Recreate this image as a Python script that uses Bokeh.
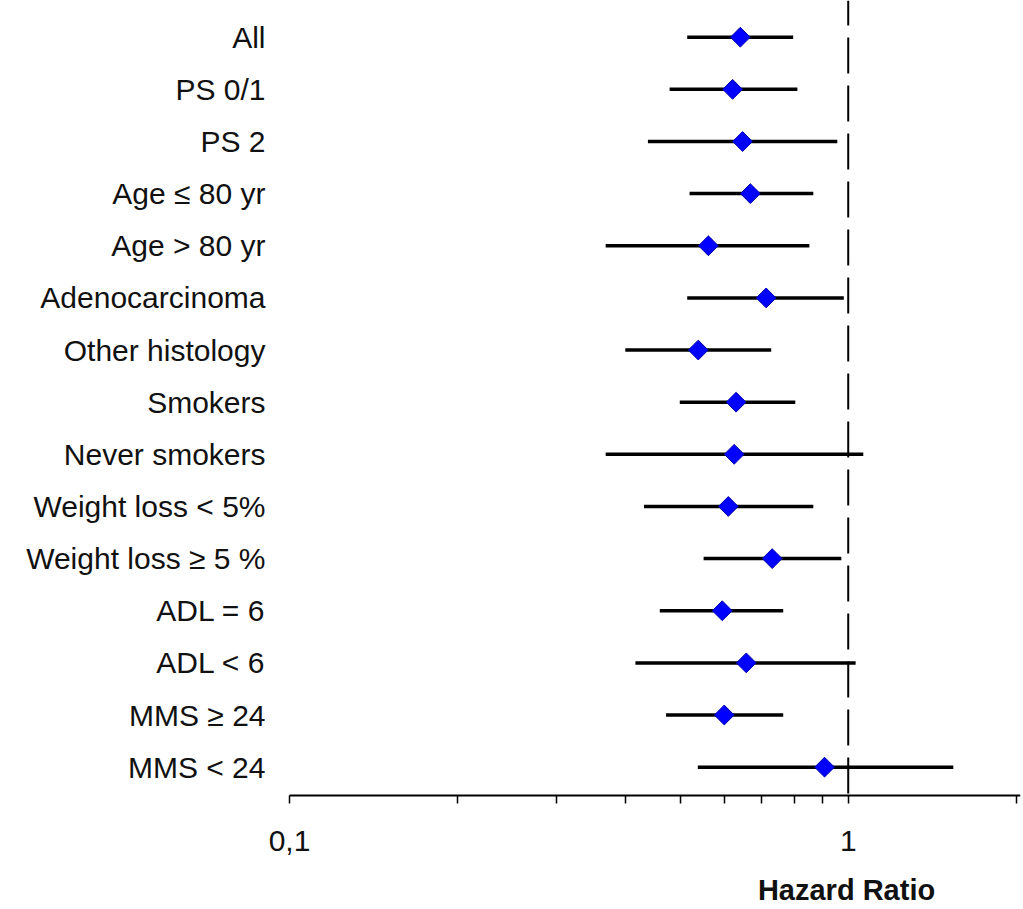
import math
from bokeh.plotting import figure
from bokeh.models import FixedTicker, Label, CustomJSTickFormatter, ColumnDataSource
from bokeh.embed import file_html
from bokeh.resources import INLINE

categories = ["All", "PS 0/1", "PS 2", "Age \u2264 80 yr", "Age > 80 yr", "Adenocarcinoma",
              "Other histology", "Smokers", "Never smokers", "Weight loss < 5%",
              "Weight loss \u2265 5 %", "ADL = 6", "ADL < 6", "MMS \u2265 24", "MMS < 24"]
hr = [0.641, 0.621, 0.647, 0.668, 0.562, 0.713, 0.539, 0.630, 0.625, 0.610, 0.731, 0.595, 0.657, 0.600, 0.907]
ci_low = [0.515, 0.479, 0.438, 0.520, 0.368, 0.515, 0.399, 0.4995, 0.368, 0.431, 0.551, 0.460, 0.416, 0.472, 0.538]
ci_high = [0.797, 0.811, 0.956, 0.866, 0.852, 0.982, 0.728, 0.804, 1.064, 0.866, 0.972, 0.765, 1.031, 0.765, 1.542]
major_ticks = [0.1, 1]
minor_ticks = [0.2, 0.3, 0.4, 0.5, 0.6, 0.7, 0.8, 0.9, 2]
reference_hr = 1

n = len(categories)
ypos = [n - 1 - i for i in range(n)]

X_START = 0.09095
X_END = 2.034
Y_TOP = 14.704
Y_AXIS = -0.543
Y_BOTTOM = -2.73

src = ColumnDataSource(dict(y=ypos, hr=hr, lo=ci_low, hi=ci_high, cat=categories))

p = figure(width=1023, height=909, x_axis_type="log", x_range=(X_START, X_END),
           y_range=(Y_BOTTOM, Y_TOP), output_backend="svg", toolbar_location=None,
           min_border_left=266, min_border_right=3, min_border_top=0, min_border_bottom=0)
p.outline_line_color = None
p.xgrid.visible = False
p.ygrid.visible = False
p.background_fill_color = "white"
p.border_fill_color = "white"

# reference line at HR = 1
p.segment(x0=[reference_hr], x1=[reference_hr], y0=[Y_TOP], y1=[Y_AXIS], line_color="black",
          line_width=2, line_dash="36 12", line_dash_offset=11)

# axis baseline from 0.1 to the right end
p.segment(x0=[major_ticks[0]], x1=[X_END], y0=[Y_AXIS], y1=[Y_AXIS], line_color="black",
          line_width=2)

p.segment(x0="lo", x1="hi", y0="y", y1="y", source=src, line_color="black", line_width=3.5)
p.scatter(x="hr", y="y", source=src, marker="square", angle=math.pi / 4, size=14,
          fill_color="#0000FF", line_color="#0000B0", line_width=1)

# x axis
xa = p.xaxis[0]
xa.fixed_location = Y_AXIS
xa.ticker = FixedTicker(ticks=major_ticks, minor_ticks=minor_ticks)
xa.formatter = CustomJSTickFormatter(code="return tick.toString().replace('.', ',');")
xa.axis_line_color = None
xa.major_tick_in = 0
xa.major_tick_out = 8
xa.minor_tick_in = 0
xa.minor_tick_out = 8
xa.major_tick_line_width = 1.5
xa.minor_tick_line_width = 1.5
xa.major_tick_line_color = "black"
xa.minor_tick_line_color = "black"
xa.major_label_text_font = "Liberation Sans"
xa.major_label_text_font_size = "30px"
xa.major_label_text_color = "#111111"
xa.major_label_standoff = 28

# y axis (category labels)
ya = p.yaxis[0]
ya.ticker = FixedTicker(ticks=ypos)
ya.major_label_overrides = {ypos[i]: categories[i] for i in range(n)}
ya.axis_line_color = None
ya.major_tick_line_color = None
ya.minor_tick_line_color = None
ya.major_tick_in = 0
ya.major_tick_out = 0
ya.major_label_standoff = 1
ya.major_label_text_font = "Liberation Sans"
ya.major_label_text_font_size = "30px"
ya.major_label_text_color = "#111111"

p.add_layout(Label(x=0.993, y=-2.365, text="Hazard Ratio", text_font="Liberation Sans",
                   text_font_size="29px", text_font_style="bold", text_color="#111111",
                   text_align="center", text_baseline="middle"))

open("out.html", "w").write(file_html(p, INLINE))
